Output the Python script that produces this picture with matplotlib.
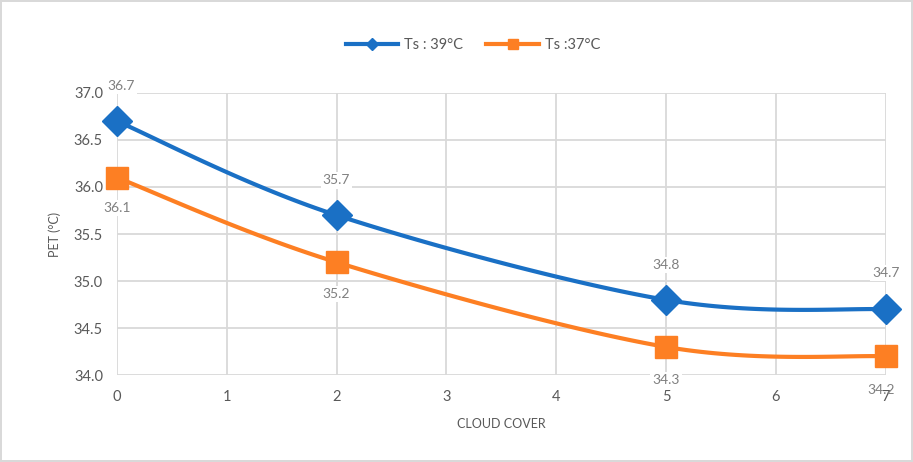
import numpy as np
import matplotlib.pyplot as plt
from matplotlib.lines import Line2D

plt.rcParams["font.family"] = ["Lato", "DejaVu Sans"]

# cloud cover vs PET for two surface temperatures
cloud_cover = [0, 2, 5, 7]
pet_39 = [36.7, 35.7, 34.8, 34.7]
pet_37 = [36.1, 35.2, 34.3, 34.2]
series_names = ["Ts : 39°C", "Ts :37°C"]

BLUE = "#1a70c5"
ORANGE = "#fd7f23"
GRAY = "#595959"
GRID = "#d9d9d9"

XLIM = (0, 7)
YLIM = (34.0, 37.0)


def smooth(xs, ys, ax_w, ax_h, n=40):
    # spreadsheet-style smoothing: cubic bezier through points, control
    # points from neighbouring slopes (Catmull-Rom, tension 1/6), in screen space
    sx = ax_w / (XLIM[1] - XLIM[0])
    sy = ax_h / (YLIM[1] - YLIM[0])
    p = np.column_stack([np.asarray(xs, float) * sx, np.asarray(ys, float) * sy])
    out = [p[0]]
    for i in range(len(p) - 1):
        p0 = p[i - 1] if i > 0 else p[i]
        p1, p2 = p[i], p[i + 1]
        p3 = p[i + 2] if i + 2 < len(p) else p[i + 1]
        c1 = p1 + (p2 - p0) / 6
        c2 = p2 - (p3 - p1) / 6
        t = np.linspace(0, 1, n)[1:, None]
        seg = ((1 - t) ** 3) * p1 + 3 * ((1 - t) ** 2) * t * c1 + 3 * (1 - t) * t ** 2 * c2 + t ** 3 * p2
        out.extend(seg)
    out = np.array(out)
    return out[:, 0] / sx, out[:, 1] / sy


fig = plt.figure(figsize=(9.13, 4.62), dpi=100)
fig.patch.set_edgecolor("#d9d9d9")
fig.patch.set_linewidth(1.5)
ax = fig.add_axes([0.128, 0.188, 0.842, 0.611])
ax_w, ax_h = 0.842 * 913, 0.611 * 462

for ys, col, mk, ms in [(pet_39, BLUE, "D", 15), (pet_37, ORANGE, "s", 16)]:
    sx_, sy_ = smooth(cloud_cover, ys, ax_w, ax_h)
    ax.plot(sx_, sy_, color=col, lw=3, solid_capstyle="round", zorder=3, clip_on=False)
    ax.plot(cloud_cover, ys, ls="none", marker=mk, ms=ms, color=col, zorder=4, clip_on=False)

box = dict(boxstyle="square,pad=0.15", fc="white", ec="none")
label_kw = dict(ha="center", va="center", fontsize=10, color="#808080", zorder=5,
                annotation_clip=False)
blue_offsets = [(3, 25), (0, 25), (0, 25), (0, 26)]
orange_offsets = [(0, -22), (0, -23), (0, -24), (-3, -24)]
for (x, y), off in zip(zip(cloud_cover, pet_39), blue_offsets):
    ax.annotate(f"{y:.1f}", (x, y), xytext=off, textcoords="offset points",
                bbox=box, **label_kw)
for i, ((x, y), off) in enumerate(zip(zip(cloud_cover, pet_37), orange_offsets)):
    # the last label sits on the x tick label, leave it unboxed
    ax.annotate(f"{y:.1f}", (x, y), xytext=off, textcoords="offset points",
                bbox=box if i < len(pet_37) - 1 else None, **label_kw)

ax.set_xlim(*XLIM)
ax.set_ylim(*YLIM)
ax.set_xticks(range(0, 8))
ax.set_yticks(np.arange(34.0, 37.01, 0.5))
ax.yaxis.set_major_formatter(plt.FormatStrFormatter("%.1f"))
ax.grid(True, color=GRID, lw=1.3)
ax.set_axisbelow(True)
for s in ax.spines.values():
    s.set_visible(False)
ax.tick_params(length=0, labelsize=10.5, labelcolor=GRAY)
ax.tick_params(axis="x", pad=11)
ax.tick_params(axis="y", pad=10)
ax.set_xlabel("CLOUD COVER", fontsize=9, color=GRAY, labelpad=10)
ax.set_ylabel("PET (°C)", fontsize=9, color=GRAY, labelpad=9)

handles = [
    Line2D([], [], color=BLUE, lw=3, marker="D", ms=6),
    Line2D([], [], color=ORANGE, lw=3, marker="s", ms=7),
]
fig.legend(handles, series_names, loc="center", bbox_to_anchor=(0.518, 0.902),
           ncol=2, frameon=False, fontsize=10.5, handlelength=3.6,
           handletextpad=0.4, columnspacing=1.6, labelcolor=GRAY)

fig.savefig("out.png", dpi=100)
